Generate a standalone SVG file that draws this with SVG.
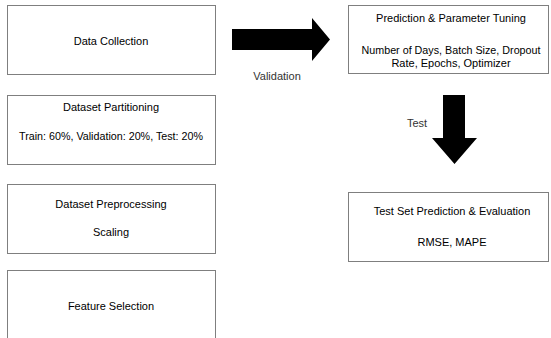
<svg xmlns="http://www.w3.org/2000/svg" width="551" height="338" viewBox="0 0 551 338">
<style>
.box{fill:#fff;stroke:#7f7f7f;stroke-width:1}
.t{font-family:"Liberation Sans",Arial,sans-serif;font-size:11px;fill:#000;text-anchor:middle}
.lbl{fill:#333}
.arr{fill:#000;stroke:none}
</style>
<rect width="551" height="338" fill="#fff"/>
<g id="data-collection"><rect class="box" x="7.5" y="5.5" width="208" height="69"/><text class="t" x="111" y="45">Data Collection</text></g>
<g id="dataset-partitioning"><rect class="box" x="7.5" y="95.5" width="208" height="69"/><text class="t" x="111" y="111">Dataset Partitioning</text><text class="t" x="111" y="140" textLength="184" lengthAdjust="spacingAndGlyphs">Train: 60%, Validation: 20%, Test: 20%</text></g>
<g id="dataset-preprocessing"><rect class="box" x="7.5" y="184.5" width="208" height="69"/><text class="t" x="111" y="208">Dataset Preprocessing</text><text class="t" x="111" y="236">Scaling</text></g>
<g id="feature-selection"><rect class="box" x="7.5" y="270.5" width="208" height="75"/><text class="t" x="111" y="310">Feature Selection</text></g>
<g id="prediction-tuning"><rect class="box" x="348.5" y="5.5" width="200" height="68"/><text class="t" x="451" y="22">Prediction &amp; Parameter Tuning</text><text class="t" x="451" y="54" textLength="179" lengthAdjust="spacingAndGlyphs">Number of Days, Batch Size, Dropout</text><text class="t" x="451" y="67">Rate, Epochs, Optimizer</text></g>
<g id="test-evaluation"><rect class="box" x="348.5" y="192.5" width="200" height="69"/><text class="t" x="452" y="215">Test Set Prediction &amp; Evaluation</text><text class="t" x="452" y="246">RMSE, MAPE</text></g>
<g id="connectors">
<polygon class="arr" points="232,29 312,29 312,18 330,39.5 312,61 312,50 232,50"/>
<text class="t lbl" x="277" y="80">Validation</text>
<polygon class="arr" points="443,95 465,95 465,138 477,138 454.5,164 432,138 443,138"/>
<text class="t lbl" x="417" y="127">Test</text>
</g>
</svg>
